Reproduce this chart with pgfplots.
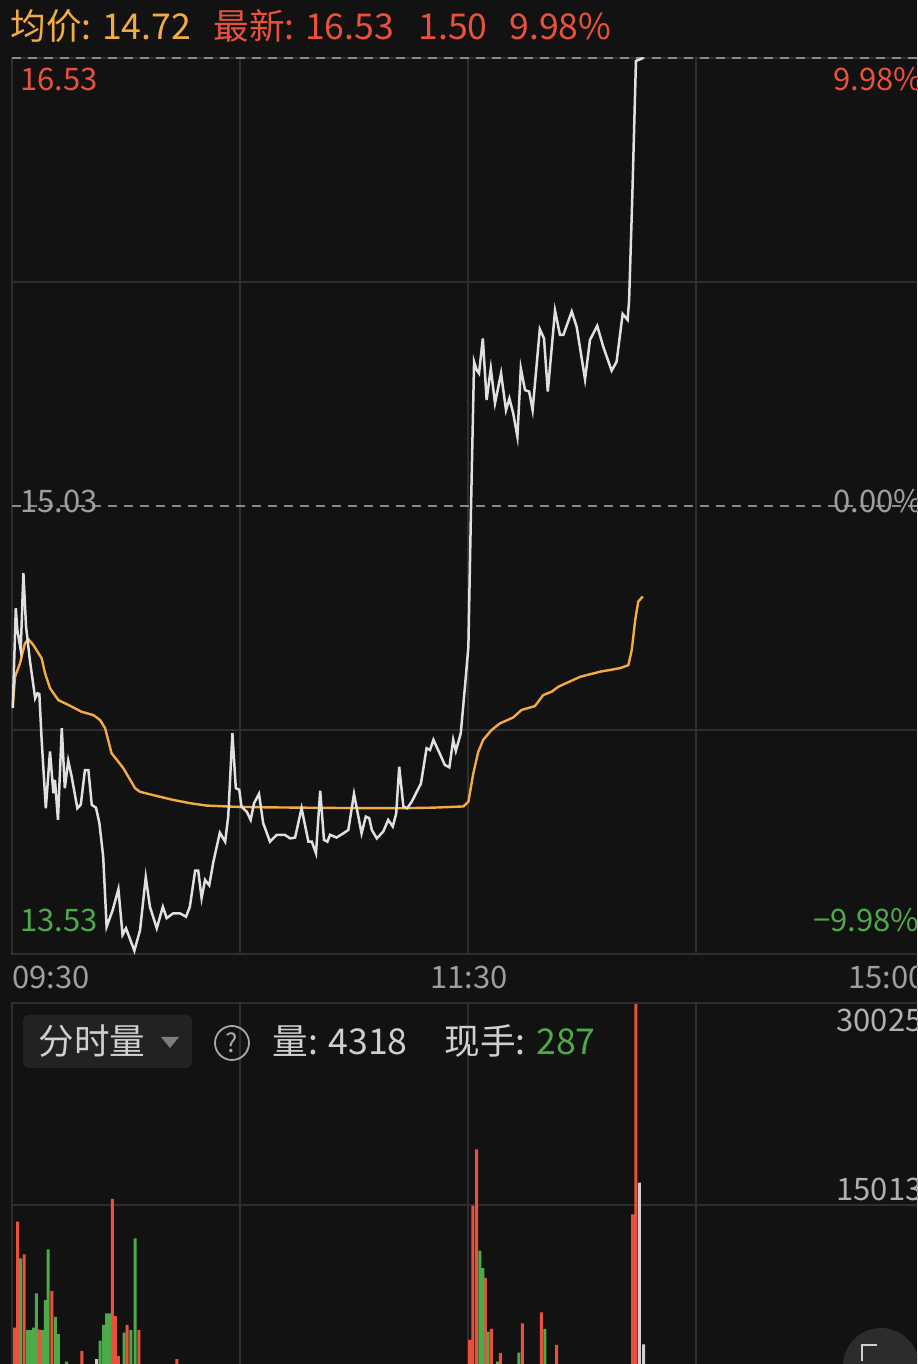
\documentclass[border=0pt]{standalone}
\usepackage{pgfplots}
\pgfplotsset{compat=1.18}
\usepackage{fontspec}
\setmainfont{Noto Sans CJK SC}
\definecolor{bg}{HTML}{121212}
\definecolor{gridc}{HTML}{2E2E2E}
\definecolor{pricec}{HTML}{E0E0E0}
\definecolor{avgc}{HTML}{F3AB42}
\definecolor{redc}{HTML}{EA513C}
\definecolor{greenc}{HTML}{4CAB48}
\definecolor{txtgray}{HTML}{9E9E9E}
\definecolor{txtlight}{HTML}{CFCFCF}
\definecolor{dashc}{HTML}{8A8A8A}
\definecolor{boxc}{HTML}{222222}
\definecolor{btnc}{HTML}{2C2C2C}
\begin{document}
\begin{tikzpicture}
\path[use as bounding box] (0,0) rectangle (458.5pt,682pt);
\fill[bg] (0,0) rectangle (458.5pt,682pt);
\clip (0,0) rectangle (458.5pt,682pt);
% ---------------- price panel ----------------
\begin{axis}[
  at={(6pt,653pt)}, anchor=north west,
  scale only axis, width=456pt, height=448pt,
  xmin=0, xmax=240, ymin=13.53, ymax=16.53,
  xtick={60,120,180}, ytick={14.28,15.78},
  xticklabels={}, yticklabels={},
  major tick length=0pt,
  grid=major, grid style={gridc, line width=0.6pt},
  axis line style={gridc, line width=0.8pt},
  clip=false,
]
\draw[dashc, line width=0.7pt, dash pattern=on 4.5pt off 3.5pt] (axis cs:0,15.03) -- (axis cs:240,15.03);
\draw[dashc, line width=0.7pt, dash pattern=on 4.5pt off 3.5pt] (axis cs:0,16.53) -- (axis cs:240,16.53);
\addplot[avgc, line width=1.2pt] coordinates {
(0.2,14.358) (0.8,14.458) (2.1,14.503) (3.4,14.570) (4.3,14.584) (5.6,14.565)
(7.8,14.520) (8.7,14.470) (10.0,14.420) (12.2,14.380) (15.3,14.361) (18.3,14.341)
(21.4,14.330) (23.2,14.313) (24.5,14.286) (25.3,14.247) (26.2,14.202) (27.6,14.180)
(29.3,14.152) (31.1,14.113) (32.4,14.085) (33.7,14.073) (38.1,14.059) (42.4,14.046)
(46.8,14.035) (51.2,14.027) (58.2,14.023) (67.0,14.021) (84.6,14.019) (102.1,14.018)
(110.9,14.020) (118.8,14.024) (120.1,14.040) (121.4,14.135) (122.7,14.207) (124.0,14.247)
(126.2,14.280) (128.4,14.302) (131.9,14.322) (134.1,14.347) (137.6,14.360) (139.8,14.397)
(142.0,14.408) (143.8,14.425) (149.5,14.458) (154.7,14.475) (160.0,14.487) (162.2,14.497)
(163.1,14.548) (164.0,14.648) (164.8,14.710) (166.0,14.727)
};
\addplot[pricec, line width=1.25pt] coordinates {
(0.2,14.353) (1.0,14.688) (1.4,14.615) (2.3,14.548) (3.0,14.805) (3.7,14.626)
(4.7,14.514) (6.1,14.386) (6.7,14.403) (7.2,14.400) (7.8,14.247) (8.9,14.018)
(10.0,14.208) (10.9,14.068) (11.3,14.113) (12.1,13.979) (13.1,14.286) (13.9,14.085)
(14.8,14.177) (15.7,14.124) (17.2,14.018) (18.1,14.030) (19.2,14.146) (20.1,14.146)
(21.0,14.029) (22.1,14.020) (23.0,13.968) (24.0,13.856) (24.9,13.621) (26.5,13.677)
(28.0,13.747) (29.1,13.594) (30.0,13.616) (32.2,13.541) (33.7,13.610) (35.2,13.787)
(36.3,13.688) (38.1,13.616) (39.7,13.688) (40.7,13.650) (42.4,13.666) (44.2,13.666)
(45.8,13.655) (46.8,13.688) (48.2,13.809) (49.0,13.809) (49.9,13.717) (50.8,13.778)
(51.9,13.760) (53.0,13.839) (54.7,13.936) (56.1,13.906) (56.9,13.990) (58.0,14.269)
(58.9,14.085) (59.8,14.080) (60.4,14.023) (61.8,14.006) (62.8,13.979) (63.7,14.035)
(65.0,14.066) (66.1,13.968) (67.9,13.906) (69.7,13.929) (71.8,13.929) (73.2,13.917)
(74.5,13.920) (76.2,14.018) (78.0,13.906) (78.9,13.906) (80.0,13.867) (81.1,14.077)
(82.1,13.912) (83.0,13.906) (83.7,13.929) (85.4,13.920) (87.2,13.934) (88.5,13.945)
(90.0,14.066) (92.0,13.934) (93.1,13.990) (94.0,13.985) (94.7,13.945) (96.0,13.917)
(97.7,13.940) (99.0,13.979) (100.2,13.957) (101.1,14.000) (101.9,14.157) (103.0,14.023)
(104.0,14.018) (105.2,14.040) (106.5,14.073) (107.6,14.100) (109.1,14.219) (110.0,14.213)
(110.9,14.247) (112.6,14.200) (113.9,14.163) (115.1,14.155) (116.1,14.247) (116.8,14.210)
(118.1,14.269) (119.2,14.425) (120.1,14.559) (120.8,15.028) (121.6,15.513) (122.3,15.485)
(122.9,15.474) (123.9,15.591) (124.9,15.385) (126.0,15.491) (127.1,15.374) (128.7,15.474)
(130.0,15.351) (130.9,15.390) (131.9,15.340) (133.0,15.262) (133.9,15.491) (135.0,15.418)
(136.1,15.413) (137.0,15.351) (138.9,15.622) (140.0,15.591) (141.0,15.413) (142.9,15.684)
(144.2,15.603) (145.1,15.603) (147.3,15.681) (148.6,15.630) (150.8,15.454) (152.1,15.586)
(154.0,15.633) (155.6,15.563) (157.8,15.483) (159.1,15.513) (160.7,15.673) (162.0,15.653)
(162.4,15.720) (163.2,16.050) (164.2,16.520) (166.1,16.530)
};
\end{axis}
% ---------------- volume panel ----------------
\begin{axis}[
  at={(6pt,180.5pt)}, anchor=north west,
  scale only axis, width=456pt, height=202pt,
  xmin=0, xmax=240, ymin=0, ymax=30025,
  xtick={60,120,180}, ytick={15012.5},
  xticklabels={}, yticklabels={},
  major tick length=0pt,
  grid=major, grid style={gridc, line width=0.6pt},
  axis line style={gridc, line width=0.8pt},
  ybar, bar width=1.5pt, bar shift=0pt,
]
\addplot[fill=redc, draw=none] coordinates {
(0.7,5893) (1.5,13771) (3.2,11348) (7.2,5750) (10.5,8620) (18.4,4160)
(26.4,15460) (27.2,6760) (28.0,3790) (30.3,6100) (33.4,5720) (43.4,3550)
(120.4,4980) (121.3,14960) (122.3,19150) (124.6,9590) (126.2,5800) (128.5,4010)
(134.3,6220) (139.3,7040) (143.3,4610) (163.3,14320) (164.2,29950)
};
\addplot[fill=greenc, draw=none] coordinates {
(2.3,11050) (4.1,5722) (4.9,5720) (5.7,5900) (6.4,8450) (8.0,5720)
(8.8,7952) (9.5,11720) (11.4,6690) (12.2,5425) (14.4,3370) (23.2,4930)
(24.1,6100) (24.9,6960) (25.7,6960) (29.5,5520) (31.3,5720) (32.4,12540)
(123.1,11620) (123.9,10330) (125.3,5600) (127.8,3370) (133.4,4040) (140.2,5800)
};
\addplot[fill=txtlight, draw=none] coordinates {
(22.3,3550) (165.1,16670) (166.2,4660)
};
\end{axis}
% ---------------- texts (pixel coordinates) ----------------
\begin{scope}[x=0.5pt, y=-0.5pt, yshift=682pt]
\fontsize{17.8pt}{21pt}\selectfont
\node[anchor=base west, inner sep=0pt, text=avgc] at (10,40) {均价: 14.72};
\node[anchor=base west, inner sep=0pt, text=redc] at (213,40) {最新: 16.53};
\node[anchor=base west, inner sep=0pt, text=redc] at (418,40) {1.50};
\node[anchor=base west, inner sep=0pt, text=redc] at (509,40) {9.98\%};
\node[anchor=base west, inner sep=0pt, text=redc, font=\fontsize{15.5pt}{18pt}\selectfont] at (20,91) {16.53};
\node[anchor=base west, inner sep=0pt, text=redc, font=\fontsize{15.5pt}{18pt}\selectfont] at (833,91) {9.98\%};
\node[anchor=base west, inner sep=0pt, text=txtgray, font=\fontsize{15.5pt}{18pt}\selectfont] at (20,513) {15.03};
\node[anchor=base west, inner sep=0pt, text=txtgray, font=\fontsize{15.5pt}{18pt}\selectfont] at (833,513) {0.00\%};
\node[anchor=base west, inner sep=0pt, text=greenc, font=\fontsize{15.5pt}{18pt}\selectfont] at (20,932) {13.53};
\node[anchor=base west, inner sep=0pt, text=greenc, font=\fontsize{15.5pt}{18pt}\selectfont] at (813,932) {−9.98\%};
\node[anchor=base west, inner sep=0pt, text=txtgray, font=\fontsize{15.5pt}{18pt}\selectfont] at (12,989) {09:30};
\node[anchor=base, inner sep=0pt, text=txtgray, font=\fontsize{15.5pt}{18pt}\selectfont] at (469,989) {11:30};
\node[anchor=base west, inner sep=0pt, text=txtgray, font=\fontsize{15.5pt}{18pt}\selectfont] at (848,989) {15:00};
% volume header
\fill[boxc, rounded corners=3pt] (23,1015) rectangle (192,1068);
\node[anchor=base west, inner sep=0pt, text=txtlight] at (38,1055) {分时量};
\fill[txtgray!80!black] (161,1037) -- (179,1037) -- (170,1048) -- cycle;
\draw[txtgray!90!white, line width=0.9pt] (232,1043) circle (17);
\node[inner sep=0pt, text=txtgray!90!white, font=\fontsize{13pt}{15pt}\selectfont] at (232,1043) {?};
\node[anchor=base west, inner sep=0pt, text=txtlight] at (272,1055) {量: 4318};
\node[anchor=base west, inner sep=0pt, text=txtlight] at (444,1055) {现手:};
\node[anchor=base west, inner sep=0pt, text=greenc] at (536,1055) {287};
\node[anchor=base west, inner sep=0pt, text=txtlight!85!black, font=\fontsize{15.5pt}{18pt}\selectfont] at (836,1032) {30025};
\node[anchor=base west, inner sep=0pt, text=txtlight!85!black, font=\fontsize{15.5pt}{18pt}\selectfont] at (836,1201) {15013};
% corner button
\fill[btnc] (881,1366) circle (38);
\draw[txtlight, line width=1.2pt] (862,1361) -- (862,1345) -- (877,1345);
\end{scope}
\end{tikzpicture}
\end{document}
